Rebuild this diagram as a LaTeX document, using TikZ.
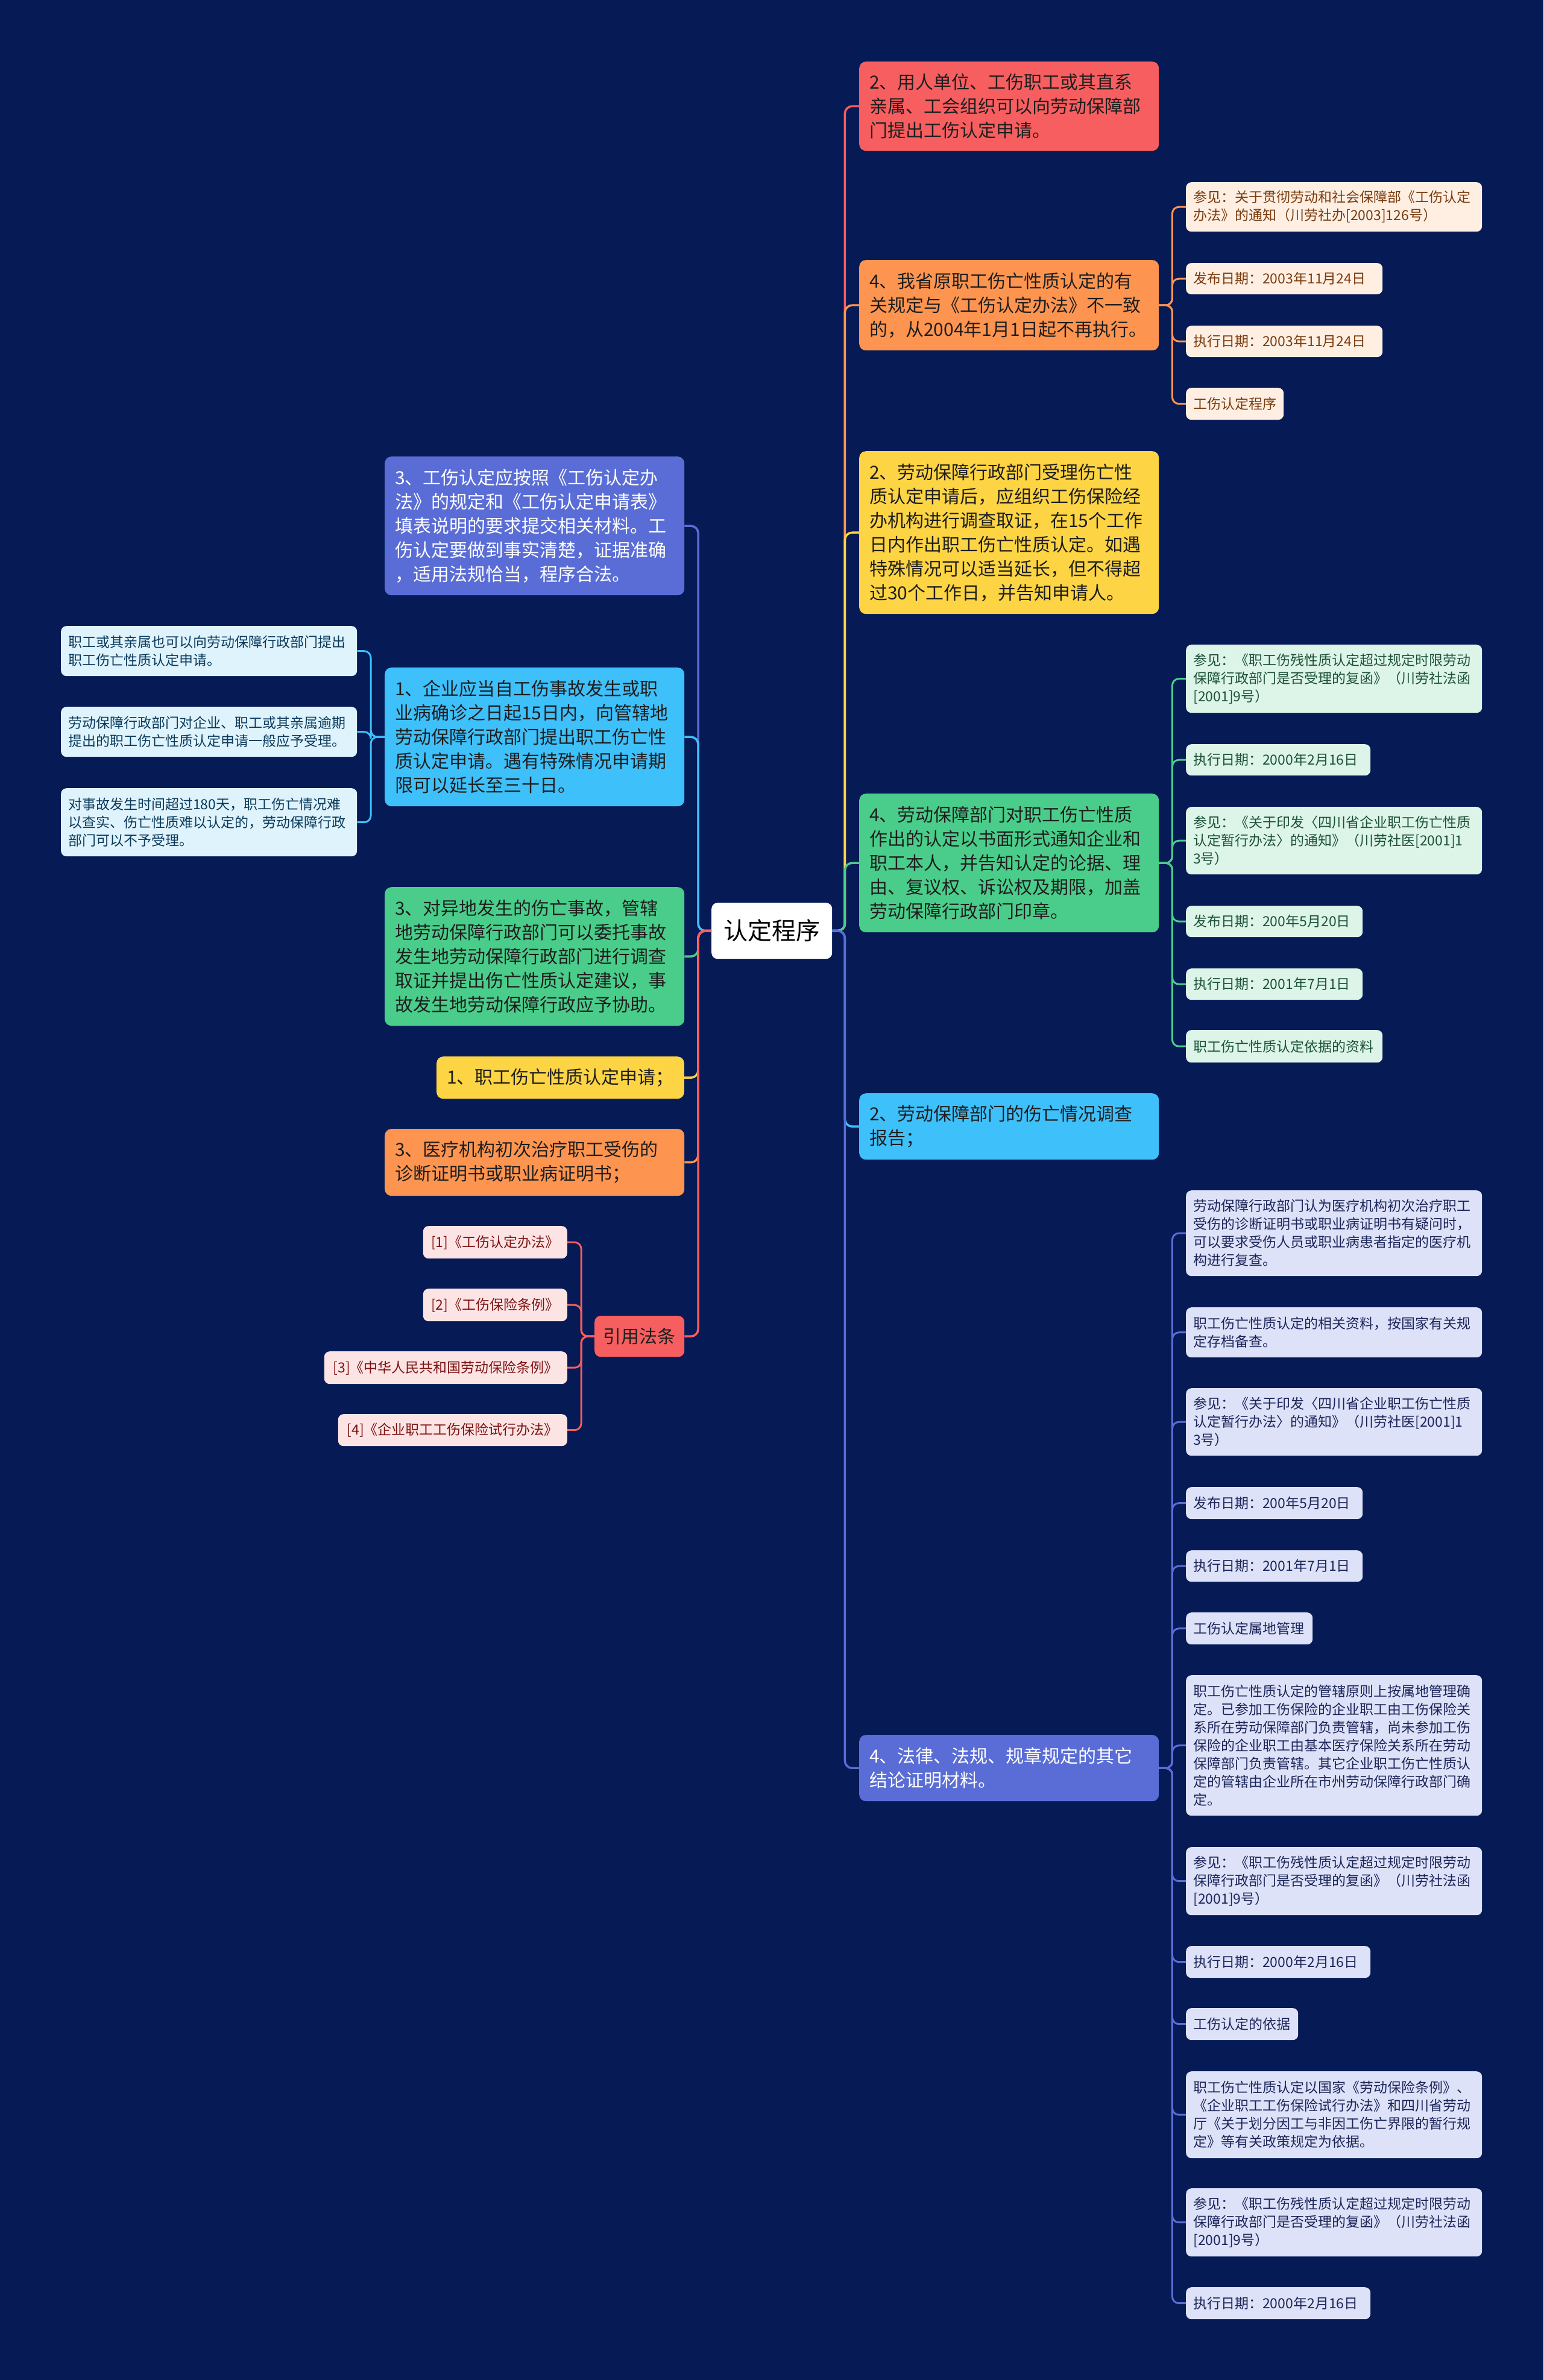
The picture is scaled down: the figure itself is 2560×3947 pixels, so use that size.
\documentclass[tikz,border=0pt]{standalone}
\usepackage{fontspec}
\setmainfont{Noto Sans CJK SC}
\definecolor{bg}{HTML}{061A55}
\definecolor{cred}{HTML}{F65E60}
\definecolor{corange}{HTML}{FD9550}
\definecolor{cyellow}{HTML}{FDD443}
\definecolor{cgreen}{HTML}{4ACD8B}
\definecolor{clblue}{HTML}{3EC0FA}
\definecolor{cindigo}{HTML}{5A6DD6}
\definecolor{tdark}{HTML}{1E1E1E}
\definecolor{fpeach}{HTML}{FFEFE3}
\definecolor{tpeach}{HTML}{7A3B0E}
\definecolor{fmint}{HTML}{DCF5E8}
\definecolor{tmint}{HTML}{1E5238}
\definecolor{flav}{HTML}{DDE2F8}
\definecolor{tlav}{HTML}{1C2559}
\definecolor{fsky}{HTML}{DFF3FD}
\definecolor{tsky}{HTML}{0B3A5A}
\definecolor{fpink}{HTML}{FDE4E4}
\definecolor{tpink}{HTML}{7D1414}
\tikzset{
  lvone/.style={rounded corners=11pt, inner xsep=17pt, inner ysep=0pt, align=left, font=\fontsize{30}{40}\selectfont},
  lvonew/.style={lvone, anchor=north west, text width=463pt},
  lvtwo/.style={rounded corners=9pt, inner xsep=12pt, inner ysep=0pt, align=left, font=\fontsize{23}{30}\selectfont},
  peach/.style={lvtwo, fill=fpeach, text=tpeach},
  mint/.style={lvtwo, fill=fmint, text=tmint},
  lav/.style={lvtwo, fill=flav, text=tlav},
  sky/.style={lvtwo, fill=fsky, text=tsky},
  pink/.style={lvtwo, fill=fpink, text=tpink, anchor=north east, align=center},
  rwide/.style={anchor=north west, text width=467pt},
  rnarrow/.style={anchor=north west, text width=#1-24pt},
  conone/.style={line width=3.5pt, rounded corners=12pt},
  contwo/.style={line width=3pt, rounded corners=11pt}
}
\begin{document}
\begin{tikzpicture}[x=1pt,y=-1pt]
\fill[bg] (0,0) rectangle (2560,3947);
\useasboundingbox (0,0) rectangle (2560,3947);

% root
\node[anchor=north west, fill=white, text=black, rounded corners=10pt, minimum width=200pt, minimum height=93pt, inner sep=0pt, font=\fontsize{40}{48}\selectfont] (root) at (1180,1497) {认定程序};

% right level one
\node[lvonew, fill=cred, text=tdark, minimum height=148pt] (R1) at (1425,102) {2、用人单位、工伤职工或其直系\\亲属、工会组织可以向劳动保障部\\门提出工伤认定申请。};
\node[lvonew, fill=corange, text=tdark, minimum height=150pt] (R2) at (1425,431) {4、我省原职工伤亡性质认定的有\\关规定与《工伤认定办法》不一致\\的，从2004年1月1日起不再执行。};
\node[lvonew, fill=cyellow, text=tdark, minimum height=270pt] (R3) at (1425,748) {2、劳动保障行政部门受理伤亡性\\质认定申请后，应组织工伤保险经\\办机构进行调查取证，在15个工作\\日内作出职工伤亡性质认定。如遇\\特殊情况可以适当延长，但不得超\\过30个工作日，并告知申请人。};
\node[lvonew, fill=cgreen, text=tdark, minimum height=230pt] (R4) at (1425,1316) {4、劳动保障部门对职工伤亡性质\\作出的认定以书面形式通知企业和\\职工本人，并告知认定的论据、理\\由、复议权、诉讼权及期限，加盖\\劳动保障行政部门印章。};
\node[lvonew, fill=clblue, text=tdark, minimum height=110pt] (R5) at (1425,1813) {2、劳动保障部门的伤亡情况调查\\报告；};
\node[lvonew, fill=cindigo, text=white, minimum height=110pt] (R6) at (1425,2877) {4、法律、法规、规章规定的其它\\结论证明材料。};

% left level one
\node[lvonew, fill=cindigo, text=white, minimum height=230pt] (L1) at (638,757) {3、工伤认定应按照《工伤认定办\\法》的规定和《工伤认定申请表》\\填表说明的要求提交相关材料。工\\伤认定要做到事实清楚，证据准确\\，适用法规恰当，程序合法。};
\node[lvonew, fill=clblue, text=tdark, minimum height=230pt] (L2) at (638,1107) {1、企业应当自工伤事故发生或职\\业病确诊之日起15日内，向管辖地\\劳动保障行政部门提出职工伤亡性\\质认定申请。遇有特殊情况申请期\\限可以延长至三十日。};
\node[lvonew, fill=cgreen, text=tdark, minimum height=230pt] (L3) at (638,1471) {3、对异地发生的伤亡事故，管辖\\地劳动保障行政部门可以委托事故\\发生地劳动保障行政部门进行调查\\取证并提出伤亡性质认定建议，事\\故发生地劳动保障行政应予协助。};
\node[lvone, anchor=north east, fill=cyellow, text=tdark, minimum height=70pt, minimum width=408pt] (L4) at (1135,1752) {1、职工伤亡性质认定申请；};
\node[lvonew, fill=corange, text=tdark, minimum height=111pt] (L5) at (638,1872) {3、医疗机构初次治疗职工受伤的\\诊断证明书或职业病证明书；};
\node[anchor=north west, fill=cred, text=tdark, rounded corners=10pt, minimum width=149pt, minimum height=68pt, inner sep=0pt, font=\fontsize{30}{36}\selectfont] (L6) at (986,2182) {引用法条};

% children of R2
\node[peach, rwide, minimum height=82pt] (a1) at (1967,302) {参见：关于贯彻劳动和社会保障部《工伤认定\\办法》的通知（川劳社办[2003]126号）};
\node[peach, rnarrow=326pt, minimum height=52pt] (a2) at (1967,436) {发布日期：2003年11月24日};
\node[peach, rnarrow=326pt, minimum height=52pt] (a3) at (1967,540) {执行日期：2003年11月24日};
\node[peach, rnarrow=162pt, minimum height=53pt] (a4) at (1967,643) {工伤认定程序};

% children of R4
\node[mint, rwide, minimum height=113pt] (b1) at (1967,1069) {参见：《职工伤残性质认定超过规定时限劳动\\保障行政部门是否受理的复函》（川劳社法函\\{}[2001]9号）};
\node[mint, rnarrow=306pt, minimum height=52pt] (b2) at (1967,1234) {执行日期：2000年2月16日};
\node[mint, rwide, minimum height=112pt] (b3) at (1967,1338) {参见：《关于印发〈四川省企业职工伤亡性质\\认定暂行办法〉的通知》（川劳社医[2001]1\\3号）};
\node[mint, rnarrow=293pt, minimum height=52pt] (b4) at (1967,1502) {发布日期：200年5月20日};
\node[mint, rnarrow=293pt, minimum height=52pt] (b5) at (1967,1606) {执行日期：2001年7月1日};
\node[mint, rnarrow=326pt, minimum height=54pt] (b6) at (1967,1708) {职工伤亡性质认定依据的资料};

% children of R6
\node[lav, rwide, minimum height=142pt] (d1) at (1967,1974) {劳动保障行政部门认为医疗机构初次治疗职工\\受伤的诊断证明书或职业病证明书有疑问时，\\可以要求受伤人员或职业病患者指定的医疗机\\构进行复查。};
\node[lav, rwide, minimum height=83pt] (d2) at (1967,2168) {职工伤亡性质认定的相关资料，按国家有关规\\定存档备查。};
\node[lav, rwide, minimum height=112pt] (d3) at (1967,2302) {参见：《关于印发〈四川省企业职工伤亡性质\\认定暂行办法〉的通知》（川劳社医[2001]1\\3号）};
\node[lav, rnarrow=293pt, minimum height=53pt] (d4) at (1967,2466) {发布日期：200年5月20日};
\node[lav, rnarrow=293pt, minimum height=52pt] (d5) at (1967,2571) {执行日期：2001年7月1日};
\node[lav, rnarrow=210pt, minimum height=53pt] (d6) at (1967,2674) {工伤认定属地管理};
\node[lav, rwide, minimum height=233pt] (d7) at (1967,2778) {职工伤亡性质认定的管辖原则上按属地管理确\\定。已参加工伤保险的企业职工由工伤保险关\\系所在劳动保障部门负责管辖，尚未参加工伤\\保险的企业职工由基本医疗保险关系所在劳动\\保障部门负责管辖。其它企业职工伤亡性质认\\定的管辖由企业所在市州劳动保障行政部门确\\定。};
\node[lav, rwide, minimum height=113pt] (d8) at (1967,3063) {参见：《职工伤残性质认定超过规定时限劳动\\保障行政部门是否受理的复函》（川劳社法函\\{}[2001]9号）};
\node[lav, rnarrow=306pt, minimum height=53pt] (d9) at (1967,3227) {执行日期：2000年2月16日};
\node[lav, rnarrow=186pt, minimum height=53pt] (d10) at (1967,3330) {工伤认定的依据};
\node[lav, rwide, minimum height=144pt] (d11) at (1967,3435) {职工伤亡性质认定以国家《劳动保险条例》、\\《企业职工工伤保险试行办法》和四川省劳动\\厅《关于划分因工与非因工伤亡界限的暂行规\\定》等有关政策规定为依据。};
\node[lav, rwide, minimum height=113pt] (d12) at (1967,3629) {参见：《职工伤残性质认定超过规定时限劳动\\保障行政部门是否受理的复函》（川劳社法函\\{}[2001]9号）};
\node[lav, rnarrow=306pt, minimum height=53pt] (d13) at (1967,3793) {执行日期：2000年2月16日};

% children of L2
\node[sky, rwide, minimum height=83pt] (e1) at (101,1038) {职工或其亲属也可以向劳动保障行政部门提出\\职工伤亡性质认定申请。};
\node[sky, rwide, minimum height=83pt] (e2) at (101,1172) {劳动保障行政部门对企业、职工或其亲属逾期\\提出的职工伤亡性质认定申请一般应予受理。};
\node[sky, rwide, minimum height=113pt] (e3) at (101,1307) {对事故发生时间超过180天，职工伤亡情况难\\以查实、伤亡性质难以认定的，劳动保障行政\\部门可以不予受理。};

% children of L6
\node[pink, minimum height=54pt, minimum width=239pt] (f1) at (941,2033) {[1]《工伤认定办法》};
\node[pink, minimum height=54pt, minimum width=239pt] (f2) at (941,2137) {[2]《工伤保险条例》};
\node[pink, minimum height=54pt, minimum width=403pt] (f3) at (941,2241) {[3]《中华人民共和国劳动保险条例》};
\node[pink, minimum height=53pt, minimum width=380pt] (f4) at (941,2345) {[4]《企业职工工伤保险试行办法》};

% connectors root -> right
\draw[conone, cred] (root.east) -- ++(21,0) |- (R1.west);
\draw[conone, corange] (root.east) -- ++(21,0) |- (R2.west);
\draw[conone, cyellow] (root.east) -- ++(21,0) |- (R3.west);
\draw[conone, cgreen] (root.east) -- ++(21,0) |- (R4.west);
\draw[conone, clblue] (root.east) -- ++(21,0) |- (R5.west);
\draw[conone, cindigo] (root.east) -- ++(21,0) |- (R6.west);

% connectors root -> left
\draw[conone, cindigo] (root.west) -- ++(-22,0) |- (L1.east);
\draw[conone, clblue] (root.west) -- ++(-22,0) |- (L2.east);
\draw[conone, cgreen] (root.west) -- ++(-22,0) |- (L3.east);
\draw[conone, cyellow] (root.west) -- ++(-22,0) |- (L4.east);
\draw[conone, corange] (root.west) -- ++(-22,0) |- (L5.east);
\draw[conone, cred] (root.west) -- ++(-22,0) |- (L6.east);

% R2 children
\foreach \c in {a1,a2,a3,a4}
  \draw[contwo, corange] (R2.east) -- ++(22,0) |- (\c.west);
% R4 children
\foreach \c in {b1,b2,b3,b4,b5,b6}
  \draw[contwo, cgreen] (R4.east) -- ++(22,0) |- (\c.west);
% R6 children
\foreach \c in {d1,d2,d3,d4,d5,d6,d7,d8,d9,d10,d11,d12,d13}
  \draw[contwo, cindigo] (R6.east) -- ++(22,0) |- (\c.west);
% L2 children
\foreach \c in {e1,e2,e3}
  \draw[contwo, clblue] (L2.west) -- ++(-23,0) |- (\c.east);
% L6 children
\foreach \c in {f1,f2,f3,f4}
  \draw[contwo, cred] (L6.west) -- ++(-22,0) |- (\c.east);
\end{tikzpicture}
\end{document}
